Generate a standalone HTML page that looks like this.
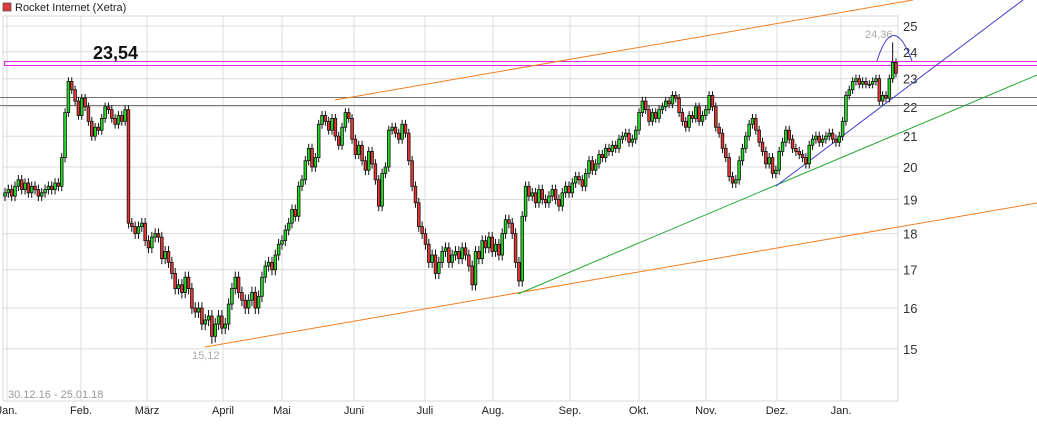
<!DOCTYPE html>
<html><head><meta charset="utf-8">
<style>
html,body{margin:0;padding:0;background:#fff;}
svg{display:block;font-family:"Liberation Sans",sans-serif;}
</style></head>
<body>
<svg id="chart" width="1037" height="424" viewBox="0 0 1037 424">
<rect x="3" y="3" width="8" height="8" fill="#e03b3b" stroke="#555" stroke-width="0.8"/>
<text x="15" y="11" font-size="11" fill="#222">Rocket Internet (Xetra)</text>
<g id="grid"></g>
<g id="lines"></g>
<g id="candles"></g>
<g id="overlay"></g>
</svg>
<script>
const monthLabels=["Jan.","Feb.","März","April","Mai","Juni","Juli","Aug.","Sep.","Okt.","Nov.","Dez.","Jan."];
const yTicks=[15,16,17,18,19,20,21,22,23,24,25];
const closes=[19.2,19.3,19.1,19.4,19.6,19.3,19.5,19.2,19.4,19.3,19.1,19.2,19.3,19.4,19.3,19.5,19.4,
20.3,21.8,22.9,22.6,22.2,21.7,22.3,22.0,21.5,21.0,21.3,21.2,21.6,22.0,21.9,21.6,21.4,21.7,21.5,21.9,
18.3,18.2,18.0,18.2,18.3,17.8,17.6,17.9,18.0,17.9,17.3,17.5,17.2,16.9,16.5,16.6,16.4,16.8,16.5,16.0,15.9,16.0,15.6,15.7,15.8,15.3,
15.6,15.8,15.5,15.6,16.1,16.5,16.8,16.4,16.2,16.0,16.2,16.4,16.0,16.3,16.8,17.1,17.2,17.0,17.4,
17.7,17.8,18.1,18.3,18.7,18.5,19.4,19.6,20.2,20.6,20.0,20.3,21.4,21.7,21.5,21.2,21.6,21.0,20.7,21.3,21.8,
21.6,20.9,20.4,20.7,20.2,19.9,20.5,20.1,19.6,18.8,19.8,20.0,21.2,21.3,21.1,20.9,21.4,21.1,20.2,19.4,18.9,18.2,
18.0,17.7,17.2,17.4,16.9,17.2,17.5,17.6,17.2,17.4,17.5,17.3,17.6,17.4,17.1,16.6,17.5,17.3,17.8,17.6,17.9,
17.5,17.7,17.4,18.0,18.4,18.3,18.0,17.2,16.7,18.5,19.4,19.1,19.2,18.9,19.3,19.0,18.9,19.1,19.3,19.0,18.8,19.2,19.4,
19.2,19.5,19.7,19.6,19.4,19.8,20.2,19.9,20.1,20.4,20.3,20.6,20.5,20.7,20.6,20.9,21.0,21.1,20.8,20.9,21.2,
21.8,22.2,21.9,21.5,21.8,21.6,21.9,22.0,22.2,22.1,22.4,22.3,21.8,21.5,21.3,21.7,21.6,22.0,21.5,21.7,21.9,22.4,
22.0,21.3,21.1,20.6,20.3,19.7,19.5,19.6,20.2,20.6,21.0,21.4,21.6,21.2,20.8,20.5,20.1,20.3,19.8,19.9,20.5,20.8,
21.2,20.9,20.6,20.5,20.4,20.3,20.1,20.7,20.9,21.0,20.8,20.9,21.0,21.1,20.9,20.8,21.0,
21.5,22.4,22.6,22.9,23.0,22.8,22.9,22.8,22.8,22.9,23.0,22.2,22.4,22.3,23.0,23.6,23.2];
const firstOpen=19.1;
const wickUp=0.15, wickDown=0.15;
const periodHigh=24.36, periodLow=15.12, markLevel=23.54;
const monthX=[7,81,147,223,282,354,425,493,570,639,706,777,841];

const NS="http://www.w3.org/2000/svg";
const svg=document.getElementById('chart');
const X0=5,X1=896,PT=16,PB=401,PR=898;
function y(v){return 26+632*Math.log(25/v);}
function xi(i){return X0+i*(X1-X0)/(closes.length-1);}
function mk(tag,attrs,parent){const e=document.createElementNS(NS,tag);for(const k in attrs)e.setAttribute(k,attrs[k]);parent.appendChild(e);return e;}
const grid=document.getElementById('grid');
let fr=mk('rect',{x:3,y:PT,width:PR-3,height:PB-PT,fill:'none',stroke:'#d8d8d8','stroke-width':1},grid);


yTicks.forEach(v=>{
  const l=mk('line',{x1:3,x2:PR,y1:y(v),y2:y(v),stroke:'#dcdcdc','stroke-width':1},grid);
  
  
  const t=mk('text',{x:903,y:y(v)+5,'font-size':13,fill:'#333'},grid);
  t.textContent=v;
  
  
});
monthLabels.forEach((m,k)=>{
  const x=monthX[k];
  const l=mk('line',{x1:x,x2:x,y1:PT,y2:PB,stroke:'#dcdcdc','stroke-width':1},grid);
  
  
  const t=mk('text',{x:x,y:414,'font-size':11,fill:'#222','text-anchor':'middle'},grid);
  t.textContent=m;
  
  
});
const rng=mk('text',{x:8,y:398,'font-size':11,fill:'#9a9aa0'},grid);
rng.textContent='30.12.16 - 25.01.18';



const L=document.getElementById('lines');
[[97,'#777'],[105,'#777']].forEach(a=>{
  const l=mk('line',{x1:0,x2:1037,y1:a[0]+0.5,y2:a[0]+0.5,stroke:a[1],'stroke-width':1},L);
  
  
});
const mt=y(markLevel);
const mr=mk('rect',{x:4.5,y:mt-2.5,width:1040,height:4,fill:'none',stroke:'#e020e0','stroke-width':1},L);


function seg(x1,y1,x2,y2,c,name){const l=mk('line',{x1,y1,x2,y2,stroke:c,'stroke-width':1},L);}
seg(335,100,913,0,'#f07f20','upper-channel-line');
seg(205,347,1037,203,'#f07f20','lower-channel-line');
seg(518,294,1037,75,'#22aa33','green-trendline');
seg(776,186,1023,0,'#3f3fcc','blue-trendline');

const C=document.getElementById('candles');
const w=(X1-X0)/(closes.length-1)*0.8;
let prev=firstOpen;
let hiIdx=closes.length-2, loIdx=closes.indexOf(Math.min(...closes));
closes.forEach((c,i)=>{
  const o=prev; prev=c;
  const x=xi(i);
  let hi=Math.max(o,c)+wickUp, lo=Math.min(o,c)-wickDown;
  if(i===hiIdx) hi=periodHigh;
  if(i===loIdx) lo=periodLow;
  const g=mk('g',{},C);
  
  
  mk('line',{x1:x,x2:x,y1:y(hi),y2:y(lo),stroke:'#111','stroke-width':1},g);
  const top=y(Math.max(o,c)), bot=y(Math.min(o,c));
  mk('rect',{x:x-w/2,y:top,width:w,height:Math.max(1,bot-top),fill:c>=o?'#22dd22':'#e33',stroke:'#111','stroke-width':0.8},g);
});
const O=document.getElementById('overlay');
const lbl=mk('text',{x:93,y:59,'font-size':18,'font-weight':'bold',fill:'#111'},O);
lbl.textContent='23,54';


const hl=mk('text',{x:865,y:38,'font-size':11,fill:'#aaa'},O);
hl.textContent='24,36';


const ll=mk('text',{x:192,y:359,'font-size':11,fill:'#aaa'},O);
ll.textContent='15,12';


const arc=mk('path',{d:'M877,61 Q893,10 912,61',fill:'none',stroke:'#3f3fcc','stroke-width':1},O);


</script>
</body></html>
